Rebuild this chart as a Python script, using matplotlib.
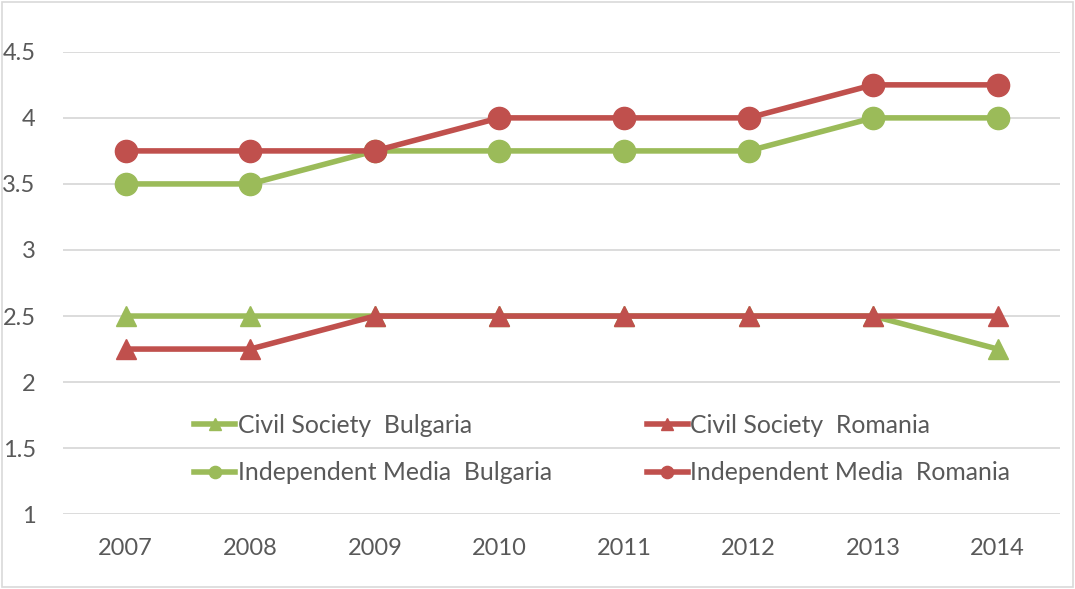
import matplotlib
matplotlib.use('Agg')
import matplotlib.pyplot as plt
from matplotlib.patches import Rectangle

years = ['2007', '2008', '2009', '2010', '2011', '2012', '2013', '2014']
civil_bg = [2.5, 2.5, 2.5, 2.5, 2.5, 2.5, 2.5, 2.25]
civil_ro = [2.25, 2.25, 2.5, 2.5, 2.5, 2.5, 2.5, 2.5]
media_bg = [3.5, 3.5, 3.75, 3.75, 3.75, 3.75, 4.0, 4.0]
media_ro = [3.75, 3.75, 3.75, 4.0, 4.0, 4.0, 4.25, 4.25]
yticks = [1, 1.5, 2, 2.5, 3, 3.5, 4, 4.5]
ytick_labels = ['1', '1.5', '2', '2.5', '3', '3.5', '4', '4.5']

GREEN = '#9BBB59'
RED = '#C0504D'
TXT = '#595959'
GRID = '#D9D9D9'

plt.rcParams['font.family'] = ['Lato', 'DejaVu Sans']

fig = plt.figure(figsize=(10.75, 5.89), dpi=100)
ax = fig.add_axes([0.059, 0.127, 0.927, 0.785])
x = list(range(len(years)))

lw = 4.0
l1, = ax.plot(x, civil_bg, color=GREEN, lw=lw, marker='^', ms=15, label='Civil Society  Bulgaria')
l2, = ax.plot(x, civil_ro, color=RED, lw=lw, marker='^', ms=15, label='Civil Society  Romania')
l3, = ax.plot(x, media_bg, color=GREEN, lw=lw, marker='o', ms=16, label='Independent Media  Bulgaria')
l4, = ax.plot(x, media_ro, color=RED, lw=lw, marker='o', ms=16, label='Independent Media  Romania')

ax.set_xlim(-0.5, len(years) - 0.5)
ax.set_ylim(1, 4.5)
ax.set_xticks(x)
ax.set_xticklabels(years)
ax.set_yticks(yticks)
ax.set_yticklabels(ytick_labels)
ax.grid(axis='y', color=GRID, lw=1.3)
ax.set_axisbelow(True)
for s in ax.spines.values():
    s.set_visible(False)
ax.tick_params(axis='both', length=0, labelsize=17, colors=TXT)
ax.tick_params(axis='y', pad=20)
ax.tick_params(axis='x', pad=17)

# legend sits inside the plot, two columns, no frame
leg = ax.legend(handles=[l1, l3, l2, l4], ncol=2, frameon=False, fontsize=17.8,
                labelcolor=TXT, markerscale=0.55, handlelength=1.65, handletextpad=0.1,
                columnspacing=3.85, labelspacing=1.0,
                loc='center left', bbox_to_anchor=(0.109, 0.141))

fig.patches.append(Rectangle((0.002, 0.003), 0.996, 0.994, transform=fig.transFigure,
                             fill=False, edgecolor=GRID, lw=1.2))

fig.savefig('out.png', dpi=100)
